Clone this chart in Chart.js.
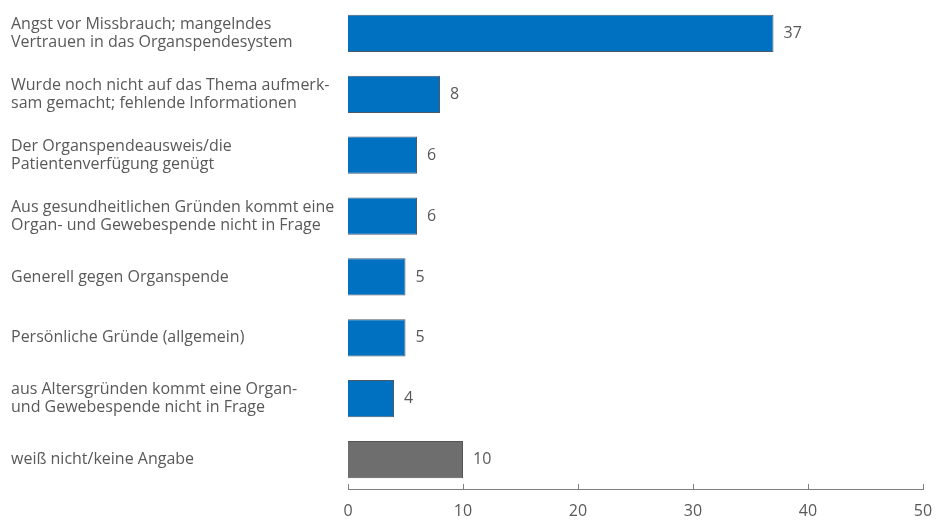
<!DOCTYPE html>
<html><head><meta charset="utf-8">
<script src="https://cdn.jsdelivr.net/npm/chart.js@4/dist/chart.umd.min.js"></script>
<style>html,body{margin:0;padding:0;background:#fff}#wrap{width:936px;height:521px}</style>
</head><body><div id="wrap"><canvas id="c" width="936" height="521"></canvas></div>
<script>
const categories = [
  ["Angst vor Missbrauch; mangelndes", "Vertrauen in das Organspendesystem"],
  ["Wurde noch nicht auf das Thema aufmerk-", "sam gemacht; fehlende Informationen"],
  ["Der Organspendeausweis/die", "Patientenverfügung genügt"],
  ["Aus gesundheitlichen Gründen kommt eine", "Organ- und Gewebespende nicht in Frage"],
  "Generell gegen Organspende",
  "Persönliche Gründe (allgemein)",
  ["aus Altersgründen kommt eine Organ-", "und Gewebespende nicht in Frage"],
  "weiß nicht/keine Angabe"
];
const values = [37, 8, 6, 6, 5, 5, 4, 10];
const xTicks = [0, 10, 20, 30, 40, 50];

const FONT = "'Open Sans', 'Segoe UI', sans-serif";
const TXT = '#595959';

const barColors = values.map((v, i) => i === values.length - 1 ? '#6e6e6e' : '#0070c0');
const borderColors = values.map((v, i) => i === values.length - 1 ? '#555555' : '#4b5b6b');

const valueLabels = {
  id: 'valueLabels',
  afterDatasetsDraw(chart) {
    const ctx = chart.ctx;
    const meta = chart.getDatasetMeta(0);
    ctx.save();
    ctx.font = "16px " + FONT;
    ctx.fillStyle = TXT;
    ctx.textAlign = 'left';
    ctx.textBaseline = 'middle';
    meta.data.forEach((bar, i) => {
      ctx.fillText(String(values[i]), bar.x + 10, bar.y);
    });
    ctx.restore();
  }
};

const upTicks = {
  id: 'upTicks',
  afterDraw(chart) {
    const ctx = chart.ctx;
    const xs = chart.scales.x;
    const y = Math.round(chart.chartArea.bottom) - 1;
    ctx.save();
    ctx.strokeStyle = '#7f7f7f';
    ctx.lineWidth = 1;
    ctx.beginPath();
    ctx.moveTo(xs.getPixelForValue(xTicks[0]), y + 0.5);
    ctx.lineTo(xs.getPixelForValue(xTicks[xTicks.length - 1]) + 1, y + 0.5);
    xTicks.forEach(t => {
      const px = Math.round(xs.getPixelForValue(t)) + 0.5;
      ctx.moveTo(px, y - 5);
      ctx.lineTo(px, y + 0.5);
    });
    ctx.stroke();
    ctx.restore();
  }
};

new Chart(document.getElementById('c'), {
  type: 'bar',
  data: {
    labels: categories,
    datasets: [{
      data: values,
      backgroundColor: barColors,
      borderColor: borderColors,
      borderWidth: 1,
      barPercentage: 0.61,
      categoryPercentage: 1.0
    }]
  },
  options: {
    indexAxis: 'y',
    responsive: false,
    animation: false,
    layout: { padding: { left: 11, right: 13, top: 3, bottom: 0 } },
    plugins: { legend: { display: false }, tooltip: { enabled: false } },
    scales: {
      x: {
        min: 0, max: 50,
        afterBuildTicks(scale) { scale.ticks = xTicks.map(v => ({ value: v })); },
        afterFit(scale) { scale.height = 31; scale.paddingLeft = 0; scale.paddingRight = 0; },
        grid: { display: false, drawTicks: false },
        border: { display: false },
        ticks: { color: TXT, font: { family: FONT, size: 16 }, padding: 12, maxRotation: 0 }
      },
      y: {
        afterFit(scale) { scale.width = 337; scale.paddingTop = 0; scale.paddingBottom = 0; },
        grid: { display: false, drawTicks: false },
        border: { display: false },
        ticks: { color: TXT, crossAlign: 'far', font: { family: FONT, size: 16, lineHeight: 1.125 } }
      }
    }
  },
  plugins: [valueLabels, upTicks]
});
</script></body></html>
